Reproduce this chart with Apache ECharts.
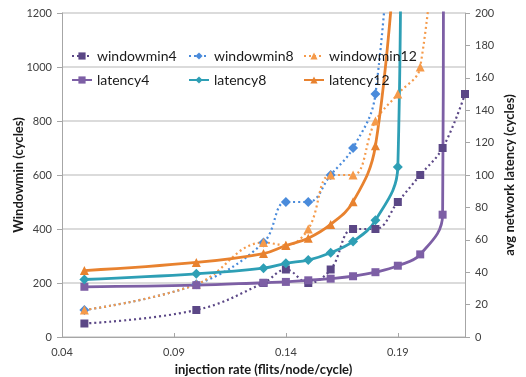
<!DOCTYPE html>
<html>
<head>
<meta charset="utf-8">
<script src="https://cdn.jsdelivr.net/npm/echarts@6/dist/echarts.min.js"></script>
<style>
  html, body { margin: 0; padding: 0; background: #fff; }
  #chart { width: 526px; height: 377px; }
</style>
</head>
<body>
<div id="chart"></div>
<script>
// values (x = injection rate)
const windowmin4X = [0.05, 0.10, 0.13, 0.14, 0.15, 0.16, 0.17, 0.18, 0.19, 0.20, 0.21, 0.22];
const windowmin4Y = [50, 100, 200, 250, 200, 250, 400, 400, 500, 600, 700, 900];

const windowmin8X = [0.05, 0.10, 0.13, 0.14, 0.15, 0.16, 0.17, 0.18, 0.19];
const windowmin8Y = [100, 195, 350, 500, 500, 600, 700, 900, 2000];

const windowmin12X = [0.05, 0.10, 0.13, 0.14, 0.15, 0.16, 0.17, 0.18, 0.19, 0.20, 0.21];
const windowmin12Y = [100, 195, 350, 340, 400, 600, 600, 800, 900, 1000, 1900];

const latency4X = [0.05, 0.10, 0.13, 0.14, 0.15, 0.16, 0.17, 0.18, 0.19, 0.20, 0.21, 0.2105];
const latency4Y = [31, 32, 33.5, 34, 35, 36, 37.5, 40, 44, 51, 75.5, 300];

const latency8X = [0.05, 0.10, 0.13, 0.14, 0.15, 0.16, 0.17, 0.18, 0.19, 0.1915];
const latency8Y = [35.5, 39, 42.5, 45.5, 47.5, 52, 59, 72, 105, 300];

const latency12X = [0.05, 0.10, 0.13, 0.14, 0.15, 0.16, 0.17, 0.18, 0.19];
const latency12Y = [41, 46, 51.5, 56.5, 61, 69.5, 83.5, 118, 260];

const xTicks = [0.04, 0.09, 0.14, 0.19];

const font = 'Lato, "Liberation Sans", sans-serif';

function pairs(xs, ys) {
    return xs.map((x, i) => [x, ys[i]]);
}

function dotted(name, color, symbol, size, xs, ys) {
    return {
        name: name,
        type: 'line',
        yAxisIndex: 0,
        smooth: 0.4,
        symbol: symbol,
        symbolSize: size,
        itemStyle: { color: color },
        lineStyle: { color: color, width: 2.2, type: [2, 3] },
        data: pairs(xs, ys)
    };
}

function solid(name, color, symbol, size, xs, ys) {
    return {
        name: name,
        type: 'line',
        yAxisIndex: 1,
        smooth: 0.4,
        symbol: symbol,
        symbolSize: size,
        itemStyle: { color: color },
        lineStyle: { color: color, width: 2.8 },
        data: pairs(xs, ys)
    };
}

function legendAt(name, left, top) {
    return {
        data: [name],
        left: left,
        top: top,
        itemWidth: 20,
        itemHeight: 9,
        selectedMode: false,
        textStyle: { fontFamily: font, fontSize: 14, color: '#1a1a1a' }
    };
}

const axisTitle = { fontFamily: font, fontSize: 13, fontWeight: 'bold', color: '#1a1a1a' };
const tickLabel = { fontFamily: font, fontSize: 11, color: '#404040', margin: 10, formatter: v => String(v) };

const option = {
    animation: false,
    backgroundColor: '#fff',
    textStyle: { fontFamily: font },
    grid: { left: 62, right: 61, top: 13, bottom: 40, outerBoundsMode: 'none', containLabel: false },
    legend: [
        legendAt('windowmin4', 66, 44),
        legendAt('windowmin8', 183, 44),
        legendAt('windowmin12', 298, 44),
        legendAt('latency4', 66, 68),
        legendAt('latency8', 183, 68),
        legendAt('latency12', 298, 68)
    ],
    xAxis: {
        type: 'value',
        min: 0.04,
        max: 0.22,
        interval: 0.05,
        name: 'injection rate (flits/node/cycle)',
        nameLocation: 'middle',
        nameGap: 26,
        nameMoveOverlap: false,
        nameTextStyle: axisTitle,
        axisLine: { show: true, lineStyle: { color: '#a6a6a6' } },
        axisTick: { show: true, inside: true, length: 4, lineStyle: { color: '#a6a6a6' } },
        splitLine: { show: false },
        axisLabel: {
            fontFamily: font,
            fontSize: 11,
            color: '#404040',
            margin: 10,
            showMaxLabel: false,
            formatter: v => xTicks.some(t => Math.abs(t - v) < 1e-6) ? v.toFixed(2) : ''
        }
    },
    yAxis: [
        {
            type: 'value',
            min: 0,
            max: 1200,
            interval: 200,
            name: 'Windowmin (cycles)',
            nameLocation: 'middle',
            nameGap: 37,
            nameMoveOverlap: false,
            nameTextStyle: axisTitle,
            axisLine: { show: true, lineStyle: { color: '#a6a6a6' } },
            axisTick: { show: true, length: 5, lineStyle: { color: '#a6a6a6' } },
            splitLine: { show: true, lineStyle: { color: '#cfcfcf', width: 1.5 } },
            axisLabel: tickLabel
        },
        {
            type: 'value',
            position: 'right',
            min: 0,
            max: 200,
            interval: 20,
            name: 'avg network latency (cycles)',
            nameLocation: 'middle',
            nameGap: 38,
            nameMoveOverlap: false,
            nameTextStyle: axisTitle,
            axisLine: { show: true, lineStyle: { color: '#a6a6a6' } },
            axisTick: { show: true, length: 5, lineStyle: { color: '#a6a6a6' } },
            splitLine: { show: false },
            axisLabel: tickLabel
        }
    ],
    series: [
        dotted('windowmin4', '#5b4786', 'rect', 8, windowmin4X, windowmin4Y),
        dotted('windowmin8', '#4a8bdb', 'diamond', 10, windowmin8X, windowmin8Y),
        dotted('windowmin12', '#f59a4a', 'triangle', 9, windowmin12X, windowmin12Y),
        solid('latency4', '#7d5fa5', 'rect', 8, latency4X, latency4Y),
        solid('latency8', '#2e9fb5', 'diamond', 10, latency8X, latency8Y),
        solid('latency12', '#e8822f', 'triangle', 9, latency12X, latency12Y)
    ]
};

const chart = echarts.init(document.getElementById('chart'));
chart.setOption(option);
</script>
</body>
</html>
